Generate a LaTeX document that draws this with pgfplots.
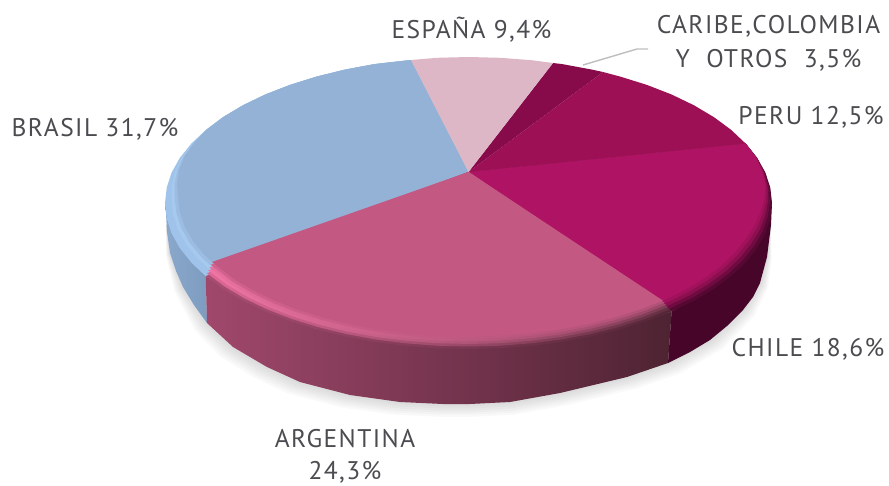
\documentclass[border=0pt]{standalone}
\usepackage{pgfplots}
\usepackage{pgfplotstable}
\usepackage{fontspec}
\setmainfont[LetterSpace=5.6]{PT Sans}
\pgfplotsset{compat=1.18}
\definecolor{txt}{RGB}{74,76,80}
\definecolor{lead}{RGB}{190,190,190}
\tikzset{lab/.style={anchor=base,text=txt,inner sep=0pt,font=\fontsize{25.5}{28}\selectfont}}
% top faces: px py, pixel position of the outline; wx wy, weight of the bevel inset
\pgfplotstableread{
px py wx wy
468.5 172 0 0
411 60 0 0
374.7 64.1 0 0
345.1 69.6 0 0
316.7 76.6 0 0
290.1 84.9 0 0
265.4 94.5 0 0
243 105.3 0 0
223 117.2 0 0
205.7 130 0.1 0.1
191.3 143.6 0.25 0.25
179.8 157.9 0.4 0.4
171.6 172.6 0.6 0.6
166.7 187.7 0.8 0.8
165 203 1 1
166.7 218.3 1 1
171.6 233.4 1 1
179.8 248.1 1 1
191.3 262.4 1 1
205.7 276 0.56 1.49
}\brasil
\pgfplotstableread{
px py wx wy
468.5 172 0 0
205.7 276 0.56 1.49
223 288.8 1 1
243 300.7 1 1
265.4 311.5 1 1
290.1 321.1 1 1
316.7 329.4 1 1
345.1 336.4 1 1
374.7 341.9 1 1
405.4 345.8 1 1
436.8 348.2 1 1
468.5 349 1 1
500.2 348.2 1 1
531.6 345.8 1 1
562.3 341.9 1 1
591.9 336.4 1 1
620.3 329.4 1 1
646.9 321.1 1 1
671.6 311.5 1 1
}\argentina
\pgfplotstableread{
px py wx wy
468.5 172 0 0
671.6 311.5 1 1
694 300.7 1 1
714 288.8 1 1
731.3 276 1 1
745.7 262.4 1 1
757.2 248.1 1 1
765.4 233.4 0.9 0.9
770.3 218.3 0.8 0.8
772 203 0.6 0.6
770.3 187.7 0.4 0.4
765.4 172.6 0.25 0.25
757.2 157.9 0.1 0.1
745.7 143.6 0 0
}\chile
% silhouette used for the soft shadow
\pgfplotstableread{
px py
166 225
170 253
183 287
207 323
233 347
267 367
300 382
350 395
400 402
443 404
470 404
510 402
560 393
627 377
668 363
710 340
743 310
760 283
767 257
771 225
}\shadowtab
\newcommand{\lay}[3]{\addplot[draw=none,no markers,#3] table[x expr={\thisrow{px}+(468.5-\thisrow{px})*0.043*#2*\thisrow{wx}}, y expr={\thisrow{py}+(57-\thisrow{py})*0.043*#2*\thisrow{wy}}] {#1};}
\newcommand{\shad}[1]{\addplot[draw=none,no markers,fill=black,fill opacity=0.025] table[x expr={468.5+(\thisrow{px}-468.5)*(1+0.008*#1*(\thisrow{py}-225)/100)}, y expr={225+(\thisrow{py}-225)*(1+0.012*#1)}] {\shadowtab};}
\begin{document}
\begin{tikzpicture}
\begin{axis}[
  width=889pt,height=485pt,scale only axis,
  xmin=0,xmax=889,ymin=0,ymax=485,y dir=reverse,
  axis lines=none,clip=false,
]
\path (axis cs:0,0) -- (axis cs:889,485);
% shadow
\shad{6}\shad{5}\shad{4}\shad{3}\shad{2}\shad{1}
% side walls
\addplot[draw=none,no markers,left color={rgb,255:red,138;green,168;blue,204},right color={rgb,255:red,126;green,156;blue,192}] coordinates {
 (165,203)(166,213)(167,232)(170,253)(176,271)(183,287)(194,305)(207,323)(205.7,276)(191,262)(172,233)};
\addplot[draw=none,no markers,left color={rgb,255:red,160;green,72;blue,108},middle color={rgb,255:red,130;green,60;blue,88},right color={rgb,255:red,78;green,35;blue,50}] coordinates {
 (205.7,276)(207,323)(233,347)(267,367)(300,382)(350,395)(400,402)(443,404)(470,404)(510,402)(560,393)(627,377)(668,363)(671.6,311.5)(620,329)(468,345)(316,329)(243,300)};
\addplot[draw=none,no markers,fill={rgb,255:red,72;green,5;blue,42}] coordinates {
 (671.6,311.5)(668,363)(690,352)(710,340)(727,326)(743,310)(753,297)(760,283)(767,257)(771,225)(772,203)(765,233)(745,262)(714,288)};
% Brasil
\lay{\brasil}{0}{fill={rgb,255:red,160;green,195;blue,235}}
\lay{\brasil}{0.5}{fill={rgb,255:red,166;green,201;blue,238}}
\lay{\brasil}{0.75}{fill={rgb,255:red,156;green,188;blue,226}}
\lay{\brasil}{1}{fill={rgb,255:red,148;green,178;blue,214}}
% Chile
\lay{\chile}{0}{fill={rgb,255:red,84;green,8;blue,50}}
\lay{\chile}{0.25}{fill={rgb,255:red,112;green,11;blue,66}}
\lay{\chile}{0.5}{fill={rgb,255:red,140;green,15;blue,80}}
\lay{\chile}{0.75}{fill={rgb,255:red,162;green,18;blue,92}}
\lay{\chile}{1}{fill={rgb,255:red,175;green,20;blue,100}}
% Argentina
\lay{\argentina}{0}{left color={rgb,255:red,170;green,78;blue,115},middle color={rgb,255:red,130;green,60;blue,88},right color={rgb,255:red,85;green,38;blue,55}}
\lay{\argentina}{0.2}{left color={rgb,255:red,222;green,104;blue,150},middle color={rgb,255:red,172;green,80;blue,112},right color={rgb,255:red,100;green,48;blue,66}}
\lay{\argentina}{0.4}{left color={rgb,255:red,240;green,118;blue,165},middle color={rgb,255:red,212;green,102;blue,142},right color={rgb,255:red,125;green,60;blue,85}}
\lay{\argentina}{0.6}{left color={rgb,255:red,232;green,112;blue,158},middle color={rgb,255:red,206;green,96;blue,138},right color={rgb,255:red,155;green,72;blue,104}}
\lay{\argentina}{0.8}{left color={rgb,255:red,210;green,98;blue,142},middle color={rgb,255:red,198;green,90;blue,132},right color={rgb,255:red,178;green,82;blue,120}}
\lay{\argentina}{1}{fill={rgb,255:red,195;green,89;blue,130}}
% Peru
\addplot[draw=none,no markers,fill={rgb,255:red,158;green,16;blue,86}] coordinates {
 (468.5,172)(745.7,143.6)(731.3,130)(714,117.2)(694,105.3)(671.6,94.5)(646.9,84.9)(620.3,76.6)(603,72)};
% Caribe, Colombia y otros
\addplot[draw=none,no markers,fill={rgb,255:red,135;green,10;blue,74}] coordinates {
 (468.5,172)(603,72)(591.9,69.6)(562.3,64.1)(553,63)};
% Espana
\addplot[draw=none,no markers,fill={rgb,255:red,222;green,183;blue,198}] coordinates {
 (468.5,172)(553,63)(531.6,60.2)(500.2,57.8)(468.5,57)(436.8,57.8)(411,60)};
% leader line
\addplot[lead,line width=1.4pt,no markers] coordinates {(583,65)(637,49)(648,49)};
% labels
\node[lab] at (axis cs:471.5,38) {ESPAÑA 9,4\%};
\node[lab] at (axis cs:768.5,33) {CARIBE,COLOMBIA};
\node[lab] at (axis cs:768.5,67) {Y\ \ OTROS\ \ 3,5\%};
\node[lab] at (axis cs:811,124) {PERU 12,5\%};
\node[lab] at (axis cs:95,136) {BRASIL 31,7\%};
\node[lab] at (axis cs:808,356) {CHILE 18,6\%};
\node[lab] at (axis cs:345,447) {ARGENTINA};
\node[lab] at (axis cs:345,479) {24,3\%};
\end{axis}
\end{tikzpicture}
\end{document}
